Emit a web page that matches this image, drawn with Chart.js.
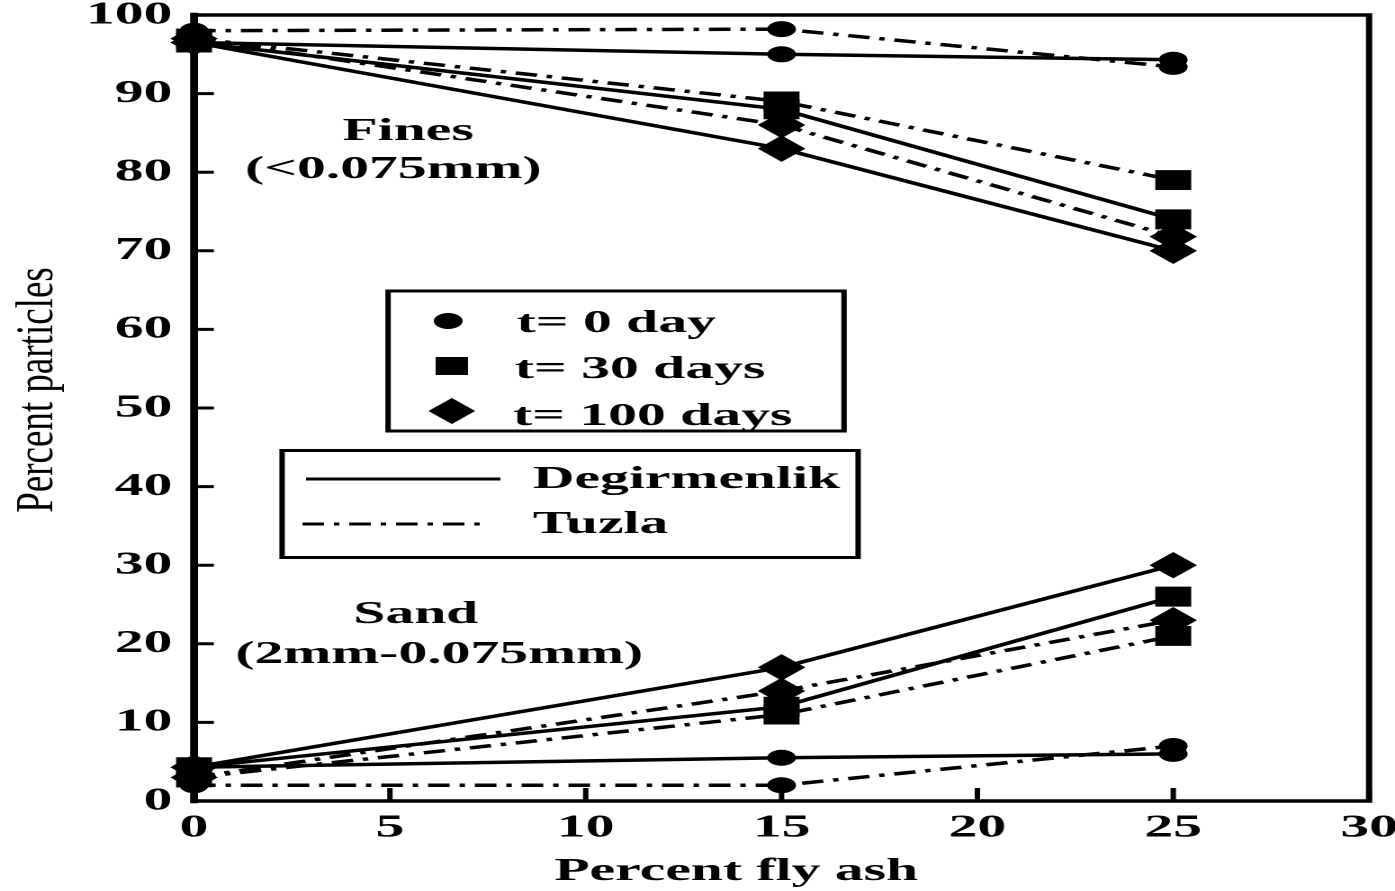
<!DOCTYPE html>
<html>
<head>
<meta charset="utf-8">
<script src="https://cdn.jsdelivr.net/npm/chart.js@4/dist/chart.umd.min.js"></script>
<style>
  html, body { margin: 0; padding: 0; background: #fff; overflow: hidden; }
  /* the figure is drawn narrow and widened horizontally */
  #wrap { position: absolute; left: 0; top: 0; width: 775px; height: 891px;
          transform: scaleX(1.8); transform-origin: 0 0; }
</style>
</head>
<body>
<div id="wrap"><canvas id="c"></canvas></div>
<script>
// Percent fly ash in the mix
const flyAsh = [0, 15, 25];

// Fines (<0.075 mm), percent particles
const finesDegirmenlik0   = [96.5, 95.0, 94.3];
const finesDegirmenlik30  = [96.5, 88.0, 74.0];
const finesDegirmenlik100 = [96.5, 83.0, 70.0];
const finesTuzla0   = [98.0, 98.2, 93.4];
const finesTuzla30  = [97.0, 89.0, 79.0];
const finesTuzla100 = [97.0, 86.0, 71.8];

// Sand (2 mm - 0.075 mm), percent particles
const sandDegirmenlik0   = [4.3, 5.5, 6.0];
const sandDegirmenlik30  = [4.3, 12.0, 26.0];
const sandDegirmenlik100 = [4.3, 17.0, 30.0];
const sandTuzla0   = [2.0, 2.0, 7.0];
const sandTuzla30  = [3.0, 11.0, 21.0];
const sandTuzla100 = [3.0, 14.0, 23.0];

// tick labels
const xTicks = [0, 5, 10, 15, 20, 25, 30];
const yTicks = [0, 10, 20, 30, 40, 50, 60, 70, 80, 90, 100];

const timeLabels = ['t= 0 day', 't= 30 days', 't= 100 days'];
const siteLabels = ['Degirmenlik', 'Tuzla'];

const BOLD = 'bold 32px "Liberation Serif", "Times New Roman", serif';
const TUZLA_DASH = [12, 5.5, 3, 5.5];

const markers = [
  { pointStyle: 'circle', radius: 7.5 },
  { pointStyle: 'rect', radius: 13.4 },
  { pointStyle: 'rectRot', radius: 12.5 }
];

function series(label, values, timeIdx, dashed) {
  const m = markers[timeIdx];
  return {
    label: label,
    data: flyAsh.map((x, i) => ({ x: x, y: values[i] })),
    borderColor: '#000',
    backgroundColor: '#000',
    borderWidth: 3.5,
    borderDash: dashed ? TUZLA_DASH : [],
    borderCapStyle: 'butt',
    tension: 0,
    pointStyle: m.pointStyle,
    pointRadius: m.radius,
    pointHoverRadius: m.radius,
    pointBorderWidth: 1,
    pointBorderColor: '#000',
    pointBackgroundColor: '#000',
    clip: false
  };
}

const datasets = [
  series('Fines Tuzla t0', finesTuzla0, 0, true),
  series('Fines Tuzla t30', finesTuzla30, 1, true),
  series('Fines Tuzla t100', finesTuzla100, 2, true),
  series('Fines Degirmenlik t0', finesDegirmenlik0, 0, false),
  series('Fines Degirmenlik t30', finesDegirmenlik30, 1, false),
  series('Fines Degirmenlik t100', finesDegirmenlik100, 2, false),
  series('Sand Tuzla t0', sandTuzla0, 0, true),
  series('Sand Tuzla t30', sandTuzla30, 1, true),
  series('Sand Tuzla t100', sandTuzla100, 2, true),
  series('Sand Degirmenlik t0', sandDegirmenlik0, 0, false),
  series('Sand Degirmenlik t30', sandDegirmenlik30, 1, false),
  series('Sand Degirmenlik t100', sandDegirmenlik100, 2, false)
];

function drawMarker(ctx, style, r, x, y) {
  ctx.save();
  ctx.fillStyle = '#000';
  ctx.beginPath();
  if (style === 'circle') {
    ctx.arc(x, y, r, 0, Math.PI * 2);
  } else if (style === 'rect') {
    const s = Math.SQRT1_2 * r;
    ctx.rect(x - s, y - s, 2 * s, 2 * s);
  } else {
    ctx.moveTo(x - r, y); ctx.lineTo(x, y - r); ctx.lineTo(x + r, y); ctx.lineTo(x, y + r);
    ctx.closePath();
  }
  ctx.fill();
  ctx.restore();
}

// frame with inward tick marks
const framePlugin = {
  id: 'frame',
  beforeDatasetsDraw(chart) {
    const { ctx, chartArea: a, scales } = chart;
    ctx.save();
    ctx.strokeStyle = '#000';
    ctx.lineCap = 'square';
    // top, right, bottom
    ctx.lineWidth = 3.5;
    ctx.beginPath();
    ctx.moveTo(a.left, a.top); ctx.lineTo(a.right, a.top);
    ctx.lineTo(a.right, a.bottom); ctx.lineTo(a.left, a.bottom);
    ctx.stroke();
    // left axis, heavier
    ctx.lineWidth = 4.4;
    ctx.beginPath();
    ctx.moveTo(a.left, a.top); ctx.lineTo(a.left, a.bottom);
    ctx.stroke();
    // ticks
    ctx.lineWidth = 3;
    ctx.lineCap = 'butt';
    ctx.beginPath();
    yTicks.forEach(v => {
      const y = scales.y.getPixelForValue(v);
      ctx.moveTo(a.left, y); ctx.lineTo(a.left + 11, y);
    });
    xTicks.forEach(v => {
      const x = scales.x.getPixelForValue(v);
      ctx.moveTo(x, a.bottom); ctx.lineTo(x, a.bottom - 13);
    });
    ctx.stroke();
    ctx.restore();
  }
};

// axis titles, region labels and the two key boxes
const notesPlugin = {
  id: 'notes',
  afterDraw(chart) {
    const ctx = chart.ctx;
    ctx.save();
    ctx.fillStyle = '#000';
    ctx.strokeStyle = '#000';

    // y axis title
    ctx.save();
    ctx.translate(21.4, 390);
    ctx.rotate(-Math.PI / 2);
    ctx.scale(1, 0.8);
    ctx.font = '37px "Liberation Serif", "Times New Roman", serif';
    ctx.textAlign = 'center';
    ctx.textBaseline = 'middle';
    ctx.fillText('Percent particles', 0, 0);
    ctx.restore();

    ctx.font = BOLD;
    ctx.textAlign = 'center';
    ctx.textBaseline = 'alphabetic';
    // x axis title
    ctx.fillText('Percent fly ash', 409, 880);

    // region labels
    ctx.fillText('Fines', 226.7, 140);
    ctx.fillText('(<0.075mm)', 218.5, 178);
    ctx.fillText('Sand', 231, 623);
    ctx.fillText('(2mm-0.075mm)', 244, 663);

    // key: curing time
    ctx.lineWidth = 3;
    ctx.strokeRect(215.6, 291, 253.3, 140);
    drawMarker(ctx, 'circle', 8, 249, 321);
    drawMarker(ctx, 'rect', 12.7, 251, 366);
    drawMarker(ctx, 'rectRot', 13, 251, 411);
    ctx.textAlign = 'left';
    ctx.fillText(timeLabels[0], 287, 332);
    ctx.fillText(timeLabels[1], 286, 378);
    ctx.fillText(timeLabels[2], 285, 425);

    // key: site
    ctx.strokeRect(156.7, 450.5, 320, 107);
    ctx.lineWidth = 3;
    ctx.beginPath();
    ctx.moveTo(170, 479); ctx.lineTo(278, 479);
    ctx.stroke();
    ctx.setLineDash(TUZLA_DASH);
    ctx.beginPath();
    ctx.moveTo(168, 524); ctx.lineTo(270, 524);
    ctx.stroke();
    ctx.setLineDash([]);
    ctx.fillText(siteLabels[0], 296, 488);
    ctx.fillText(siteLabels[1], 296, 533);
    ctx.restore();
  }
};

new Chart(document.getElementById('c'), {
  type: 'line',
  data: { datasets: datasets },
  options: {
    responsive: true,
    maintainAspectRatio: false,
    devicePixelRatio: 2,
    animation: false,
    events: [],
    layout: { padding: { left: 0, top: 15, right: 13.6, bottom: 0 } },
    plugins: { legend: { display: false }, tooltip: { enabled: false }, title: { display: false } },
    scales: {
      x: {
        type: 'linear',
        min: 0, max: 30,
        afterBuildTicks: s => { s.ticks = xTicks.map(v => ({ value: v })); },
        afterFit: s => { s.height = 90; s.paddingLeft = 0; s.paddingRight = 0; },
        grid: { display: false, drawTicks: false },
        border: { display: false },
        ticks: { color: '#000', font: { family: '"Liberation Serif", serif', size: 32, weight: 'bold' }, padding: 8, maxRotation: 0 }
      },
      y: {
        type: 'linear',
        min: 0, max: 100,
        afterBuildTicks: s => { s.ticks = yTicks.map(v => ({ value: v })); },
        afterFit: s => { s.width = 107.8; s.paddingTop = 0; s.paddingBottom = 0; },
        grid: { display: false, drawTicks: false },
        border: { display: false },
        ticks: { color: '#000', font: { family: '"Liberation Serif", serif', size: 32, weight: 'bold' }, padding: 12 }
      }
    }
  },
  plugins: [framePlugin, notesPlugin]
});
</script>
</body>
</html>
